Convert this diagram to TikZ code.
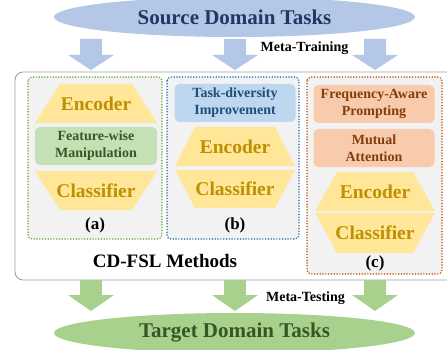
\documentclass[tikz,border=0pt]{standalone}
\usepackage{fontspec}
\setmainfont{Liberation Serif}
\usetikzlibrary{shapes.geometric}
\definecolor{srcfill}{HTML}{B4C7E7}
\definecolor{srctext}{HTML}{203864}
\definecolor{tgtfill}{HTML}{A9D18E}
\definecolor{tgttext}{HTML}{375623}
\definecolor{panelfill}{HTML}{F2F2F2}
\definecolor{framegray}{HTML}{A0A0A0}
\definecolor{dotgreen}{HTML}{70AD47}
\definecolor{dotblue}{HTML}{2E75B6}
\definecolor{dotorange}{HTML}{C55A11}
\definecolor{yelfill}{HTML}{FFE699}
\definecolor{yeltext}{HTML}{BF9000}
\definecolor{grnfill}{HTML}{C5E0B4}
\definecolor{grntext}{HTML}{385723}
\definecolor{blufill}{HTML}{BDD7EE}
\definecolor{blutext}{HTML}{1F4E79}
\definecolor{orgfill}{HTML}{F8CBAD}
\definecolor{orgtext}{HTML}{843C0C}
% trapezoid: centre x, first edge y, second edge y, half width of first edge, half width of second edge, colour
\newcommand\trapshape[6]{\fill[#6] (#1-#4,#2) -- (#1+#4,#2) -- (#1+#5,#3) -- (#1-#5,#3) -- cycle;}
% block arrow pointing down: centre x, top y, head start y, tip y, colour
\newcommand\blockdown[5]{\fill[#5] (#1-11,#2) -- (#1+11,#2) -- (#1+11,#3) -- (#1+23,#3) -- (#1,#4) -- (#1-23,#3) -- (#1-11,#3) -- cycle;}
\begin{document}
\begin{tikzpicture}[x=1pt,y=-1pt,
  bigtitle/.style={font=\bfseries\fontsize{21}{24}\selectfont},
  phase/.style={font=\bfseries\fontsize{14}{16}\selectfont, text=black},
  yeltxt/.style={font=\bfseries\fontsize{19.5}{22}\selectfont, text=yeltext},
  module/.style={rounded corners=5pt, align=center, inner sep=0pt,
    minimum width=121pt, minimum height=38pt,
    font=\bfseries\fontsize{14}{17}\selectfont},
  panel/.style={fill=panelfill, rounded corners=4pt, line width=1.7pt,
    line cap=round, dash pattern=on 0pt off 2.8pt},
  tag/.style={font=\bfseries\fontsize{17}{20}\selectfont, text=black}]
\useasboundingbox (0,0) rectangle (447,350);
\clip (0,0) rectangle (447,350);

% source and target domains
\node[ellipse, fill=srcfill, minimum width=361pt, minimum height=40pt, inner sep=0pt,
  bigtitle, text=srctext] (src) at (234.5,17) {Source Domain Tasks};
\node[ellipse, fill=tgtfill, minimum width=361pt, minimum height=40pt, inner sep=0pt,
  bigtitle, text=tgttext] (tgt) at (234.5,333) {Target Domain Tasks};

% meta-training arrows
\blockdown{91}{39}{55}{70}{srcfill}
\blockdown{235}{39}{55}{70}{srcfill}
\blockdown{375}{39}{55}{70}{srcfill}
\node[phase] (train) at (304.5,48) {Meta-Training};

% outer frame of the methods
\draw[framegray, line width=0.9pt, fill=white, rounded corners=8pt]
  (15,72) rectangle (470,280);
\node[font=\bfseries\fontsize{19}{22}\selectfont] (methods) at (165,261) {CD-FSL Methods};

% meta-testing arrows
\blockdown{91}{280}{295}{311}{tgtfill}
\blockdown{235}{280}{295}{311}{tgtfill}
\blockdown{375}{280}{295}{311}{tgtfill}
\node[phase] (test) at (305.5,298) {Meta-Testing};

% panel (a)
\draw[panel, draw=dotgreen] (28,77) rectangle (162,239);
\trapshape{96}{84}{123}{36}{61}{yelfill}
\node[yeltxt] (enca) at (96,103.5) {Encoder};
\node[module, fill=grnfill, text=grntext, minimum width=122pt] (fwm) at (96,146) {Feature-wise\\Manipulation};
\trapshape{96}{210}{171}{36}{61}{yelfill}
\node[yeltxt] (clsa) at (96,190.5) {Classifier};
\node[tag] (taga) at (95,225) {(a)};

% panel (b)
\draw[panel, draw=dotblue] (167,77) rectangle (299,239);
\node[module, fill=blufill, text=blutext] (tdi) at (235,103) {Task-diversity\\Improvement};
\trapshape{235}{127}{166}{40}{60}{yelfill}
\node[yeltxt] (encb) at (235,146.5) {Encoder};
\trapshape{235}{208}{170}{40}{60}{yelfill}
\node[yeltxt] (clsb) at (235,189) {Classifier};
\node[tag] (tagb) at (235,225) {(b)};

% panel (c)
\draw[panel, draw=dotorange] (307,77) rectangle (442,274);
\node[module, fill=orgfill, text=orgtext] (fap) at (374,104) {Frequency-Aware\\Prompting};
\node[module, fill=orgfill, text=orgtext] (mat) at (374,148) {Mutual\\Attention};
\trapshape{375}{172}{211}{38}{60}{yelfill}
\node[yeltxt] (encc) at (375,191.5) {Encoder};
\trapshape{375}{253}{213}{38}{60}{yelfill}
\node[yeltxt] (clsc) at (375,233) {Classifier};
\node[tag] (tagc) at (375,263) {(c)};
\end{tikzpicture}
\end{document}
